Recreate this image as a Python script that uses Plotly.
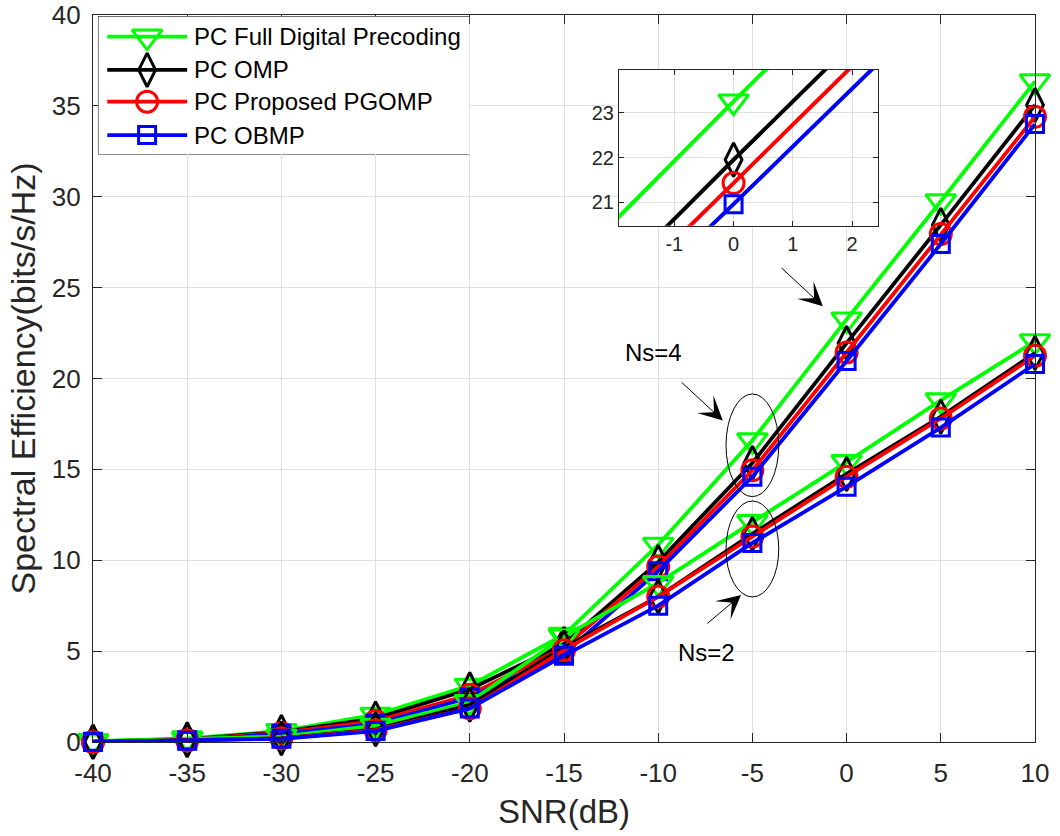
import plotly.graph_objects as go

# ---------------------------------------------------------------- data
snr_db = [-40, -35, -30, -25, -20, -15, -10, -5, 0, 5, 10]

# Ns = 4 data streams
se_fd_ns4 = [0.05, 0.2, 0.6, 1.5, 3.1, 5.9, 10.85, 16.6, 23.25, 29.75, 36.35]
se_omp_ns4 = [0.02, 0.15, 0.55, 1.3, 2.9, 5.4, 9.9, 15.35, 21.95, 28.45, 35.05]
se_pgomp_ns4 = [0.02, 0.12, 0.5, 1.15, 2.6, 5.2, 9.65, 14.95, 21.43, 27.95, 34.4]
se_obmp_ns4 = [0.02, 0.1, 0.45, 1.0, 2.45, 4.85, 9.4, 14.6, 20.96, 27.4, 34.0]

# Ns = 2 data streams
se_fd_ns2 = [0.03, 0.15, 0.3, 0.9, 2.2, 5.8, 8.75, 12.1, 15.4, 18.8, 22.05]
se_omp_ns2 = [0.0, 0.1, 0.2, 0.7, 2.05, 5.2, 8.0, 11.45, 14.75, 17.9, 21.4]
se_pgomp_ns2 = [0.0, 0.08, 0.2, 0.65, 1.85, 5.05, 8.0, 11.3, 14.6, 17.8, 21.25]
se_obmp_ns2 = [0.0, 0.07, 0.18, 0.6, 1.85, 4.75, 7.5, 10.95, 14.05, 17.3, 20.8]

method_names = ["PC Full Digital Precoding", "PC OMP", "PC Proposed PGOMP", "PC OBMP"]

x_tick_vals = [-40, -35, -30, -25, -20, -15, -10, -5, 0, 5, 10]
y_tick_vals = [0, 5, 10, 15, 20, 25, 30, 35, 40]
inset_x_ticks = [-1, 0, 1, 2]
inset_y_ticks = [21, 22, 23]

# ---------------------------------------------------------------- styles
colors = ["#00ff00", "#000000", "#ff0000", "#0000ff"]
symbols = ["triangle-down-open", "diamond-tall-open", "circle-open", "square-open"]
marker_sizes = [26, 24, 21, 17]
FONT = "Liberation Sans, Arial, Helvetica, sans-serif"
AXIS_COLOR = "#262626"
GRID_COLOR = "#dfdfdf"

series_ns4 = [se_fd_ns4, se_omp_ns4, se_pgomp_ns4, se_obmp_ns4]
series_ns2 = [se_fd_ns2, se_omp_ns2, se_pgomp_ns2, se_obmp_ns2]

fig = go.Figure()


def add_curves(xaxis, yaxis, line_w, clip):
    for group in (series_ns4, series_ns2):
        for name, ys, c, sym, ms in zip(method_names, group, colors, symbols, marker_sizes):
            fig.add_trace(go.Scatter(
                x=snr_db, y=ys, name=name, mode="lines+markers",
                xaxis=xaxis, yaxis=yaxis, showlegend=False, cliponaxis=clip,
                line=dict(color=c, width=line_w),
                marker=dict(symbol=sym, size=ms, color=c, line=dict(color=c, width=3)),
                hoverinfo="x+y+name",
            ))


# main plot and magnified inset around SNR = 0 dB
add_curves("x", "y", 3.8, False)
add_curves("x2", "y2", 4, True)

# ---------------------------------------------------------------- legend (drawn in a helper axis)
legend_rows = [0.855, 0.612, 0.381, 0.138]
legend_line_x = [0.0235, 0.239]
legend_marker_x = 0.131
legend_text_x = 0.252
for name, c, sym, ms, ry in zip(method_names, colors, symbols, marker_sizes, legend_rows):
    fig.add_trace(go.Scatter(
        x=legend_line_x, y=[ry, ry], mode="lines", xaxis="x3", yaxis="y3",
        showlegend=False, hoverinfo="skip", line=dict(color=c, width=3.8)))
    fig.add_trace(go.Scatter(
        x=[legend_marker_x], y=[ry], mode="markers", xaxis="x3", yaxis="y3",
        showlegend=False, hoverinfo="skip",
        marker=dict(symbol=sym, size=ms, color=c, line=dict(color=c, width=3))))
    fig.add_annotation(x=legend_text_x, y=ry, xref="x3", yref="y3", text=name,
                       showarrow=False, xanchor="left", yanchor="middle",
                       font=dict(family=FONT, size=24, color="#000000"))

shapes = [
    # legend box
    dict(type="rect", xref="x3 domain", yref="y3 domain", x0=0, x1=1, y0=0, y1=1,
         fillcolor="white", line=dict(color=AXIS_COLOR, width=1.2), layer="below"),
    # inset background
    dict(type="rect", xref="x2 domain", yref="y2 domain", x0=0, x1=1, y0=0, y1=1,
         fillcolor="white", line=dict(width=0), layer="below"),
    # ellipses marking the two stream groups at -5 dB
    dict(type="circle", xref="x", yref="y", x0=-6.4, x1=-3.6, y0=13.5, y1=19.15,
         line=dict(color="black", width=1)),
    dict(type="circle", xref="x", yref="y", x0=-6.4, x1=-3.6, y0=7.98, y1=13.26,
         line=dict(color="black", width=1)),
]

arrows = [
    # (tail x, tail y, head x, head y)
    (-3.53, 26.16, -1.26, 23.97),
    (-8.84, 19.87, -6.57, 17.69),
    (-7.47, 6.45, -5.60, 8.09),
]
for tx, ty, hx, hy in arrows:
    fig.add_annotation(x=hx, y=hy, ax=tx, ay=ty, xref="x", yref="y", axref="x", ayref="y",
                       text="", showarrow=True, arrowhead=3, arrowsize=4, arrowwidth=1,
                       arrowcolor="black", standoff=0, startstandoff=0)

fig.add_annotation(x=-10.27, y=21.42, xref="x", yref="y", text="Ns=4", showarrow=False,
                   font=dict(family=FONT, size=24, color="black"))
fig.add_annotation(x=-7.46, y=4.92, xref="x", yref="y", text="Ns=2", showarrow=False,
                   font=dict(family=FONT, size=24, color="black"))

main_axis = dict(
    showline=True, linecolor=AXIS_COLOR, linewidth=1.2, mirror="ticks",
    ticks="inside", ticklen=9, tickwidth=1.2, tickcolor=AXIS_COLOR,
    showgrid=True, gridcolor=GRID_COLOR, gridwidth=1, zeroline=False,
    ticklabeloverflow="allow", automargin=False,
    tickfont=dict(family=FONT, size=26, color=AXIS_COLOR),
)
inset_axis = dict(
    showline=True, linecolor=AXIS_COLOR, linewidth=1.2, mirror="ticks",
    ticks="inside", ticklen=5, tickwidth=1.2, tickcolor=AXIS_COLOR,
    showgrid=True, gridcolor=GRID_COLOR, gridwidth=1, zeroline=False,
    automargin=False,
    tickfont=dict(family=FONT, size=20, color=AXIS_COLOR),
)

fig.update_layout(
    width=1060, height=836,
    margin=dict(l=93, r=25, t=15, b=94),
    paper_bgcolor="white", plot_bgcolor="white",
    showlegend=False,
    shapes=shapes,
    xaxis=dict(main_axis, range=[-40, 10], tickvals=x_tick_vals,
               ticktext=[str(v) for v in x_tick_vals], ticklabelstandoff=8,
               title=dict(text="SNR(dB)", font=dict(family=FONT, size=33, color=AXIS_COLOR),
                          standoff=12)),
    yaxis=dict(main_axis, range=[0, 40], tickvals=y_tick_vals,
               ticktext=[str(v) for v in y_tick_vals], ticklabelstandoff=6,
               title=dict(text="Spectral Efficiency(bits/s/Hz)",
                          font=dict(family=FONT, size=34, color=AXIS_COLOR), standoff=5)),
    xaxis2=dict(inset_axis, domain=[0.5585, 0.833], anchor="y2", range=[-1.93, 2.43],
                tickvals=inset_x_ticks, ticktext=[str(v) for v in inset_x_ticks]),
    yaxis2=dict(inset_axis, domain=[0.7102, 0.9243], anchor="x2", range=[20.48, 23.95],
                tickvals=inset_y_ticks, ticktext=[str(v) for v in inset_y_ticks]),
    xaxis3=dict(domain=[0.0059, 0.3993], anchor="y3", range=[0, 1], visible=False,
                fixedrange=True),
    yaxis3=dict(domain=[0.8088, 0.9977], anchor="x3", range=[0, 1], visible=False,
                fixedrange=True),
)

fig.write_html("out.html")
